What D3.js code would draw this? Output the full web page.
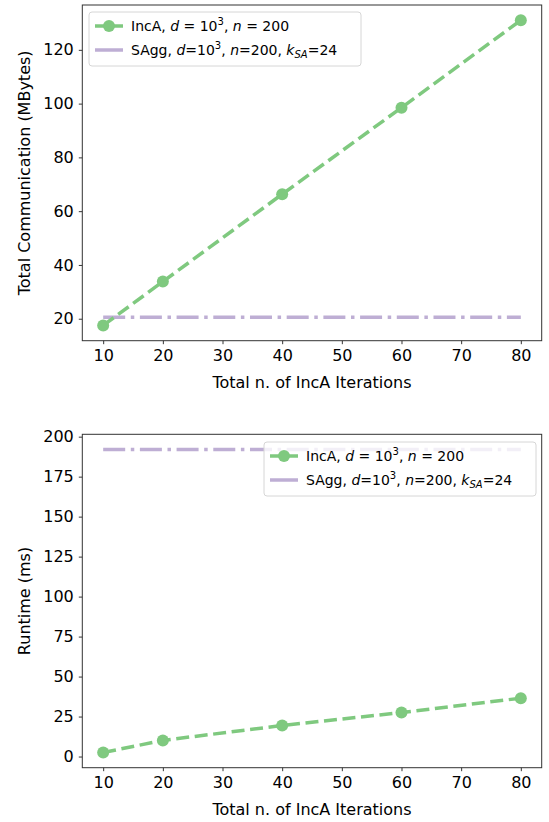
<!DOCTYPE html>
<html>
<head>
<meta charset="utf-8">
<script src="https://d3js.org/d3.v7.min.js"></script>
<style>
  body { margin: 0; background: #fff; }
  text { font-family: "DejaVu Sans", sans-serif; fill: #000; }
</style>
</head>
<body>
<svg id="chart" width="549" height="822"></svg>
<script>
// data
const iterations = [10, 20, 40, 60, 80];
const commIncA = [17.5, 33.8, 66.3, 98.5, 131.0];
const commSAgg = [20.5, 20.5, 20.5, 20.5, 20.5];
const runtimeIncA = [2.5, 10.1, 19.4, 27.5, 36.5];
const runtimeSAgg = [192, 192, 192, 192, 192];
const xTicks = [10, 20, 30, 40, 50, 60, 70, 80];
const commTicks = [20, 40, 60, 80, 100, 120];
const runtimeTicks = [0, 25, 50, 75, 100, 125, 150, 175, 200];

const green = "#7fc97f", purple = "#beaed4";
const svg = d3.select("#chart");

function pad(lo, hi) { const m = (hi - lo) * 0.05; return [lo - m, hi + m]; }

function panel(opts) {
  const g = svg.append("g");
  const x = d3.scaleLinear().domain(pad(10, 80)).range([82.3, 541.7]);
  const y = d3.scaleLinear().domain(opts.ydom).range([opts.bottom, opts.top]);

  const line = d3.line().x((d, i) => x(iterations[i])).y(d => y(d));

  // SAgg line
  g.append("path").datum(opts.sagg)
    .attr("d", line).attr("fill", "none")
    .attr("stroke", purple).attr("stroke-width", 3.5)
    .attr("stroke-dasharray", "22,5.6,3.5,5.6");
  // IncA line
  g.append("path").datum(opts.inca)
    .attr("d", line).attr("fill", "none")
    .attr("stroke", green).attr("stroke-width", 3.5)
    .attr("stroke-dasharray", "13,5.6");
  g.selectAll("circle.pt").data(opts.inca).join("circle")
    .attr("cx", (d, i) => x(iterations[i])).attr("cy", d => y(d))
    .attr("r", 6).attr("fill", green);

  // axes
  const xa = g.append("g").attr("transform", `translate(0,${opts.bottom})`)
    .call(d3.axisBottom(x).tickValues(xTicks).tickSize(3.5).tickPadding(5));
  const ya = g.append("g").attr("transform", "translate(82.3,0)")
    .call(d3.axisLeft(y).tickValues(opts.yticks).tickSize(3.5).tickPadding(5));
  [xa, ya].forEach(a => {
    a.select(".domain").remove();
    a.selectAll("text").style("font-size", "16px").attr("fill", "#000");
    a.selectAll("line").attr("stroke", "#000").attr("stroke-width", 0.8);
  });
  g.append("rect").attr("x", 82.3).attr("y", opts.top)
    .attr("width", 541.7 - 82.3).attr("height", opts.bottom - opts.top)
    .attr("fill", "none").attr("stroke", "#333").attr("stroke-width", 1);

  g.append("text").attr("x", (82.3 + 541.7) / 2).attr("y", opts.bottom + 47)
    .attr("text-anchor", "middle").style("font-size", "16px")
    .text("Total n. of IncA Iterations");
  g.append("text")
    .attr("transform", `translate(30,${(opts.top + opts.bottom) / 2}) rotate(-90)`)
    .attr("text-anchor", "middle").style("font-size", "16px")
    .text(opts.ylabel);

  // legend
  const lg = g.append("g").attr("transform", `translate(${opts.lx},${opts.ly})`);
  lg.append("rect").attr("width", 272).attr("height", 54).attr("rx", 3)
    .attr("fill", "rgba(255,255,255,0.8)").attr("stroke", "#d6d6d6");
  lg.append("line").attr("x1", 6).attr("x2", 34).attr("y1", 14).attr("y2", 14)
    .attr("stroke", green).attr("stroke-width", 3.5);
  lg.append("circle").attr("cx", 20).attr("cy", 14).attr("r", 6).attr("fill", green);
  lg.append("line").attr("x1", 6).attr("x2", 34).attr("y1", 38).attr("y2", 38)
    .attr("stroke", purple).attr("stroke-width", 3.5);

  const t1 = lg.append("text").attr("x", 42).attr("y", 19).style("font-size", "14px");
  t1.append("tspan").text("IncA, ");
  t1.append("tspan").style("font-style", "italic").text("d");
  t1.append("tspan").text(" = 10");
  t1.append("tspan").attr("dy", -6).style("font-size", "10px").text("3");
  t1.append("tspan").attr("dy", 6).text(", ");
  t1.append("tspan").style("font-style", "italic").text("n");
  t1.append("tspan").text(" = 200");

  const t2 = lg.append("text").attr("x", 42).attr("y", 43).style("font-size", "14px");
  t2.append("tspan").text("SAgg, ");
  t2.append("tspan").style("font-style", "italic").text("d");
  t2.append("tspan").text("=10");
  t2.append("tspan").attr("dy", -6).style("font-size", "10px").text("3");
  t2.append("tspan").attr("dy", 6).text(", ");
  t2.append("tspan").style("font-style", "italic").text("n");
  t2.append("tspan").text("=200, ");
  t2.append("tspan").style("font-style", "italic").text("k");
  t2.append("tspan").attr("dy", 3).style("font-size", "10px").style("font-style", "italic").text("SA");
  t2.append("tspan").attr("dy", -3).text("=24");
}

panel({
  top: 5, bottom: 340.7,
  ydom: pad(17.5, 131.0),
  yticks: commTicks,
  inca: commIncA, sagg: commSAgg,
  ylabel: "Total Communication (MBytes)",
  lx: 89, ly: 12
});

panel({
  top: 434.3, bottom: 767.7,
  ydom: pad(2.5, 192),
  yticks: runtimeTicks,
  inca: runtimeIncA, sagg: runtimeSAgg,
  ylabel: "Runtime (ms)",
  lx: 264, ly: 442
});
</script>
</body>
</html>
